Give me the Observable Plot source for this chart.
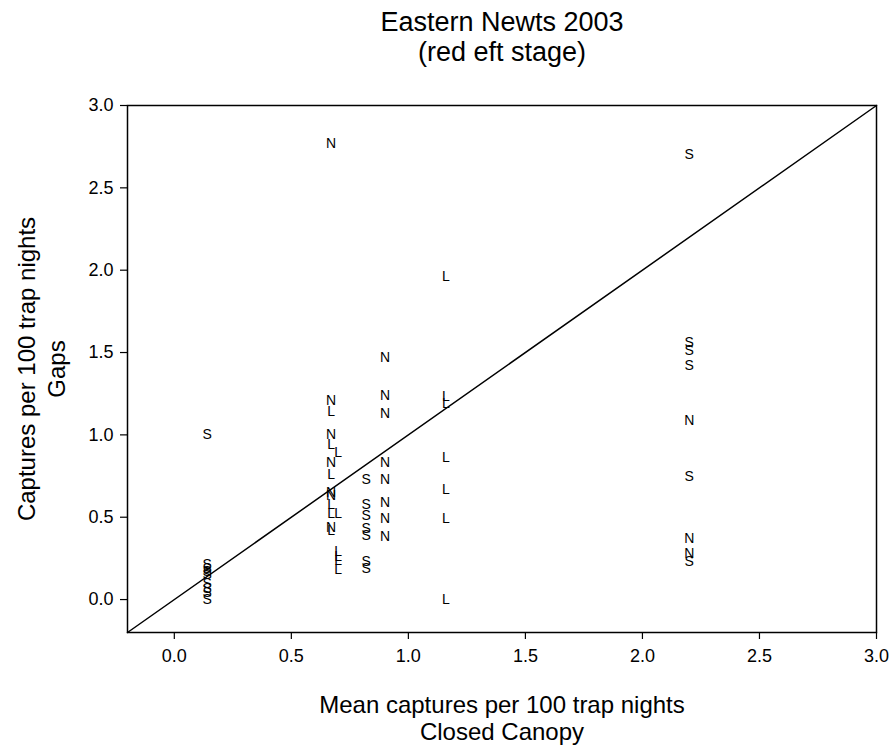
<!DOCTYPE html>
<html>
<head>
<meta charset="utf-8">
<script src="https://cdn.jsdelivr.net/npm/d3@7"></script>
<script src="https://cdn.jsdelivr.net/npm/@observablehq/plot@0.6"></script>
<style>
  body { margin: 0; background: #fff; }
  #chart svg { display: block; }
</style>
</head>
<body>
<div id="chart"></div>
<script>
// Red eft captures per 100 trap nights: closed canopy mean (x) vs gaps (y),
// plotted by site type letter (S, N, L).
const sCanopy = [0.14, 0.14, 0.14, 0.14, 0.14, 0.14, 0.14, 0.14, 0.14,
                 0.82, 0.82, 0.82, 0.82, 0.82, 0.82, 0.82,
                 2.20, 2.20, 2.20, 2.20, 2.20, 2.20];
const sGaps   = [1.00, 0.21, 0.19, 0.17, 0.15, 0.10, 0.07, 0.04, 0.00,
                 0.73, 0.58, 0.51, 0.43, 0.39, 0.23, 0.19,
                 2.70, 1.56, 1.51, 1.42, 0.75, 0.23];

const nCanopy = [0.67, 0.67, 0.67, 0.67, 0.67, 0.67, 0.67,
                 0.90, 0.90, 0.90, 0.90, 0.90, 0.90, 0.90, 0.90,
                 2.20, 2.20, 2.20];
const nGaps   = [2.77, 1.21, 1.00, 0.83, 0.65, 0.63, 0.44,
                 1.47, 1.24, 1.13, 0.83, 0.73, 0.59, 0.49, 0.38,
                 1.09, 0.37, 0.28];

const lCanopy = [0.67, 0.67, 0.67, 0.67, 0.67, 0.67,
                 0.70, 0.70, 0.70, 0.70, 0.70, 0.70,
                 1.16, 1.16, 1.16, 1.16, 1.16, 1.16, 1.16];
const lGaps   = [1.14, 0.94, 0.76, 0.58, 0.52, 0.42,
                 0.89, 0.52, 0.29, 0.26, 0.24, 0.18,
                 1.96, 1.23, 1.19, 0.86, 0.67, 0.49, 0.00];

const axisDomain = [-0.2, 3.0];
const tickValues = [0.0, 0.5, 1.0, 1.5, 2.0, 2.5, 3.0];

const titleLines = ["Eastern Newts 2003", "(red eft stage)"];
const xTitleLines = ["Mean captures per 100 trap nights", "Closed Canopy"];
const yTitleLines = ["Captures per 100 trap nights", "Gaps"];

const toPoints = (code, xs, ys) => xs.map((x, i) => ({code, canopy: x, gaps: ys[i]}));
const points = [
  ...toPoints("S", sCanopy, sGaps),
  ...toPoints("N", nCanopy, nGaps),
  ...toPoints("L", lCanopy, lGaps)
];

const font = "Arial, 'Liberation Sans', sans-serif";
const label = (text, opts) =>
  Plot.text([text], {textAnchor: "middle", lineAnchor: "middle", fill: "black", ...opts});

const chart = Plot.plot({
  width: 896,
  height: 753,
  marginLeft: 127,
  marginRight: 20,
  marginTop: 105,
  marginBottom: 121,
  style: {fontFamily: font, fontSize: "18px", color: "black", background: "white"},
  x: {domain: axisDomain},
  y: {domain: axisDomain},
  marks: [
    Plot.frame({stroke: "black", strokeWidth: 1.5}),
    Plot.axisX({ticks: tickValues, tickFormat: d3.format(".1f"), tickSize: 7, tickPadding: 10,
                label: null, fontSize: 18, stroke: "black", strokeWidth: 1.2}),
    Plot.axisY({ticks: tickValues, tickFormat: d3.format(".1f"), tickSize: 7, tickPadding: 7,
                label: null, fontSize: 18, stroke: "black", strokeWidth: 1.2}),
    // 1:1 reference line across the full domain
    Plot.line(axisDomain, {x: d => d, y: d => d, stroke: "black", strokeWidth: 1.5}),
    Plot.text(points, {x: "canopy", y: "gaps", text: "code", fontSize: 14, fill: "black"}),
    // chart title
    label(titleLines[0], {frameAnchor: "top", dy: -83, fontSize: 27}),
    label(titleLines[1], {frameAnchor: "top", dy: -53, fontSize: 27}),
    // x axis title
    label(xTitleLines[0], {frameAnchor: "bottom", dy: 73, fontSize: 24}),
    label(xTitleLines[1], {frameAnchor: "bottom", dy: 100, fontSize: 24}),
    // y axis title
    label(yTitleLines[0], {frameAnchor: "left", dx: -100, rotate: -90, fontSize: 24}),
    label(yTitleLines[1], {frameAnchor: "left", dx: -70, rotate: -90, fontSize: 24})
  ]
});

document.getElementById("chart").appendChild(chart);
</script>
</body>
</html>
